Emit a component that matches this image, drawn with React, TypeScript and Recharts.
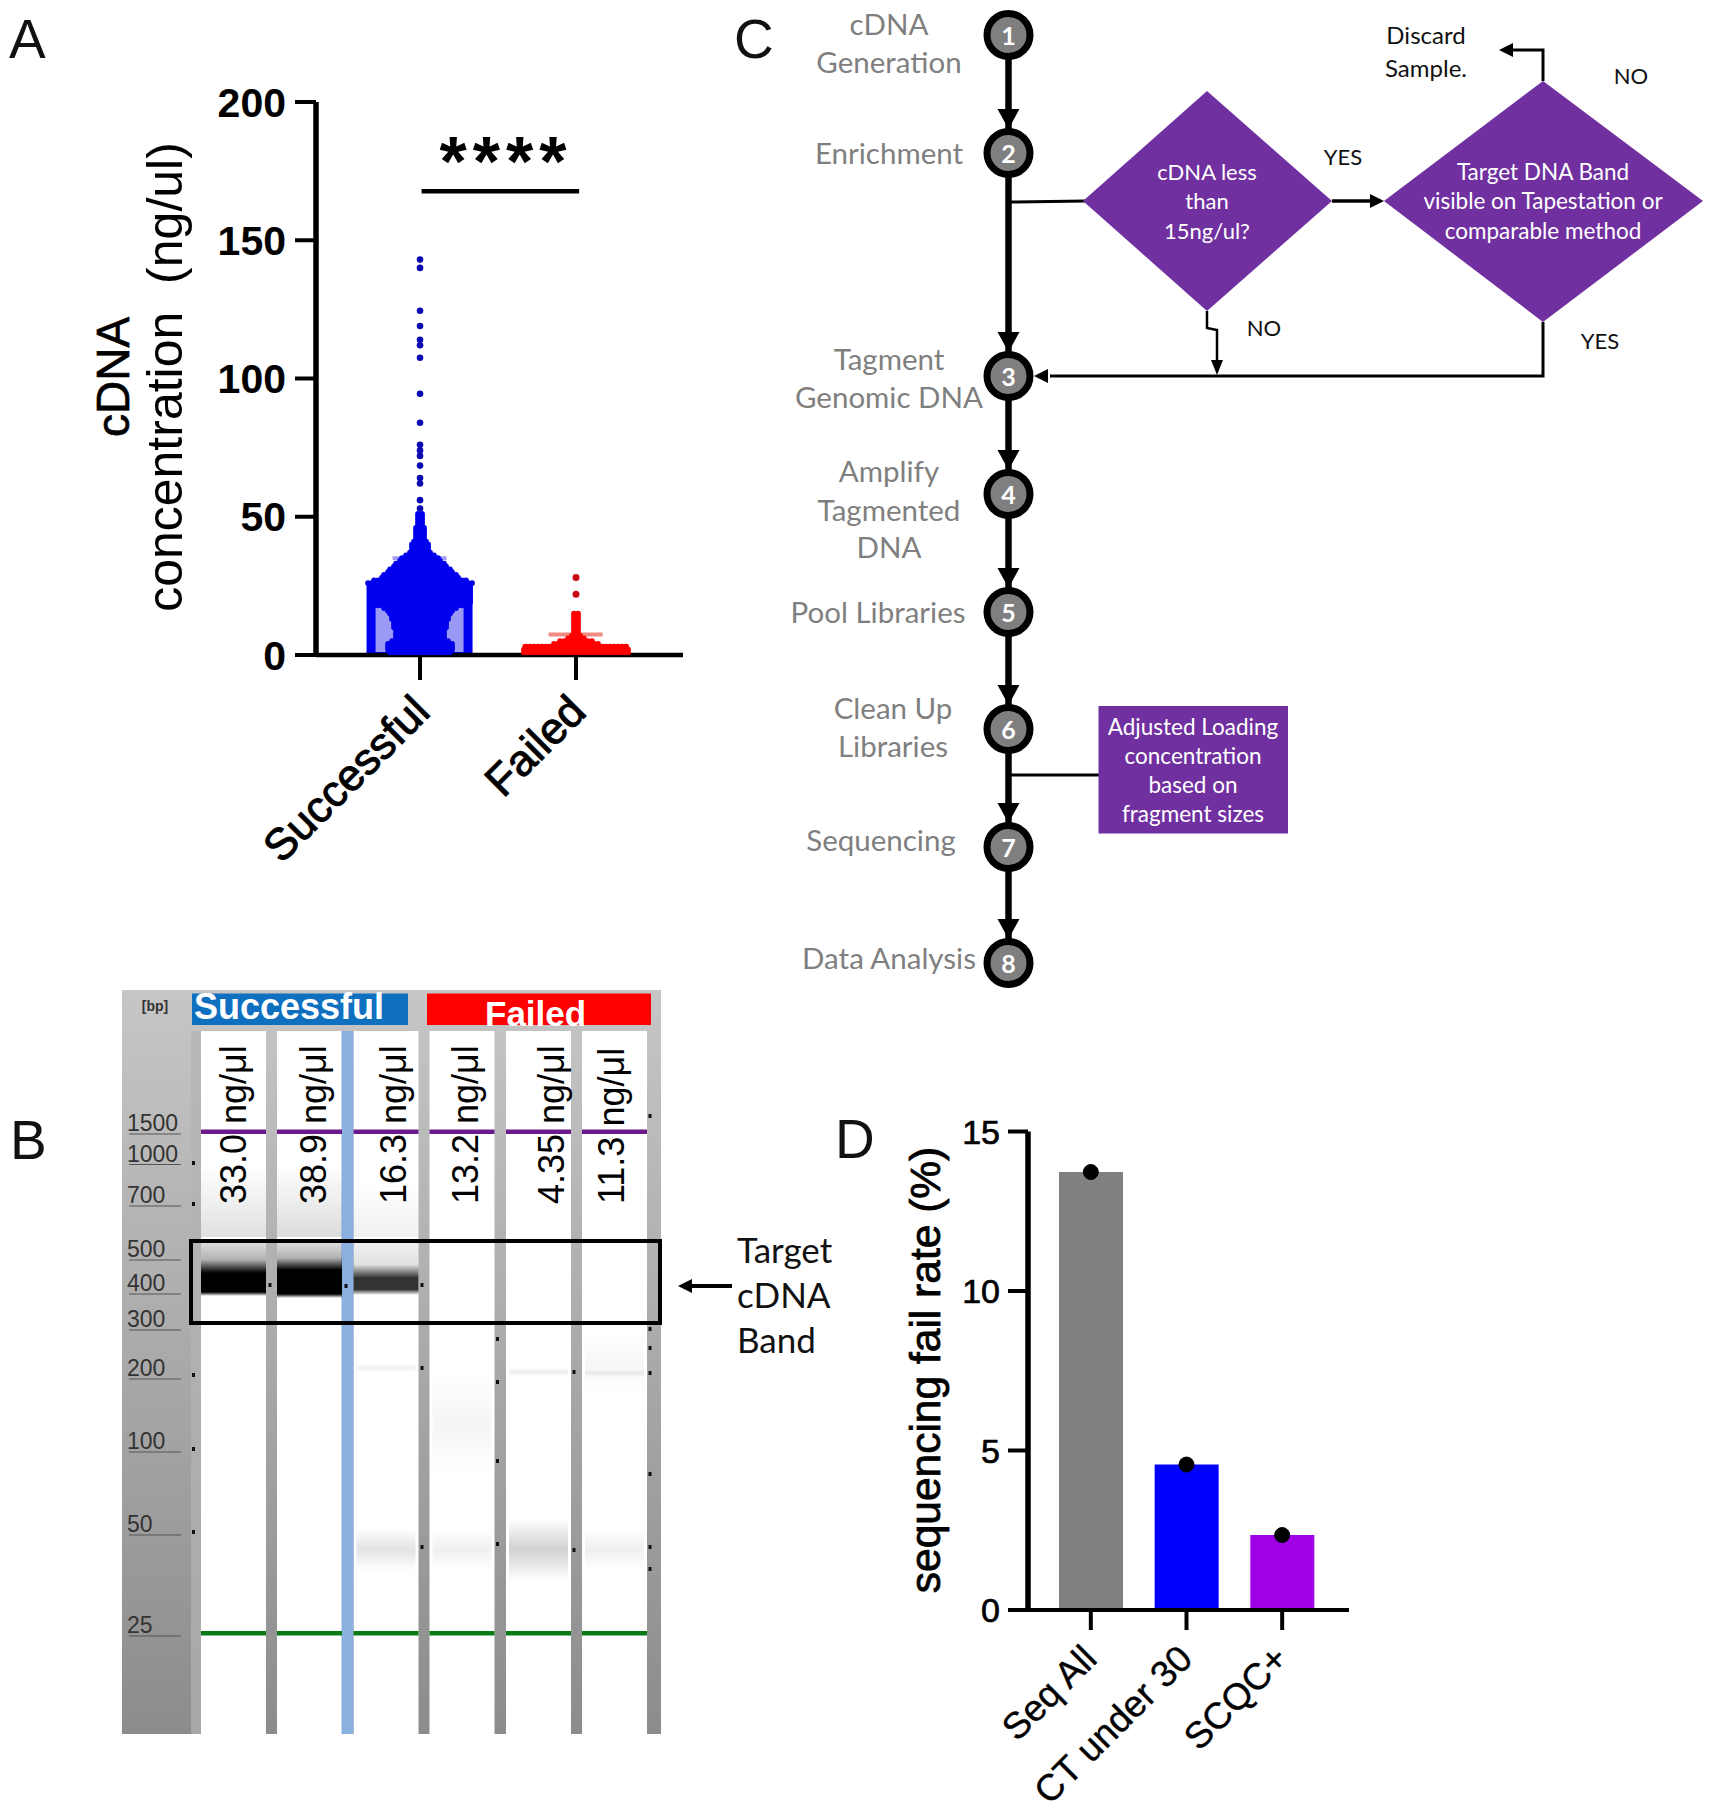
// App.tsx - four panel cDNA / sequencing QC figure
import React from 'react';
import {
  ComposedChart,
  Bar,
  Line,
  Scatter,
  ErrorBar,
  Cell,
  XAxis,
  YAxis,
  ReferenceLine,
} from 'recharts';

const ARIAL = '"Liberation Sans", Arial, sans-serif';
const CALIBRI = 'Lato, "Open Sans", sans-serif';

// ---- Panel A data ----
const swarmGroups = ['Successful', 'Failed'];
const concentrationTicks = [0, 50, 100, 150, 200];
const successfulMean = 24.5;
const successfulError = [0, 10.5];
const failedMean = 2.2;
const failedError = [0, 5.2];
// one swarm row per ng/ul level: how many samples sit on the row
const successfulRowValues = [
  1, 2, 3, 4, 5, 6, 7, 8, 9, 10, 11, 12, 13, 14, 15, 16, 17, 18, 19, 20, 21, 22, 23, 24, 25, 26,
  27, 28, 29, 30, 31, 32, 33, 34, 35, 36, 37, 38, 39, 40, 41, 42, 43, 44, 45, 46, 47, 48, 49, 50, 51,
];
const successfulRowCounts = [
  16, 17, 17, 17, 15, 13, 13, 13, 13, 14, 14, 14, 15, 15, 16, 17, 19, 24, 26, 26, 26, 26, 26, 26, 26, 27,
  24, 20, 19, 17, 16, 14, 13, 11, 10, 8, 6, 5, 5, 5, 4, 3, 3, 3, 3, 3, 2, 2, 2, 2, 2,
];
const successfulOutliers = [143, 140, 124.5, 119, 114, 112, 107.5, 94.5, 84, 76, 74, 72, 68.5, 64, 62, 56, 53];
const failedRowValues = [1, 2, 3, 4, 5, 6, 7, 8, 9, 10, 11, 12, 13, 14, 15];
const failedRowCounts = [27, 27, 26, 12, 9, 5, 3, 2, 2, 2, 2, 2, 2, 2, 2];
const failedOutliers = [28, 22];

// ---- Panel B data ----
const ladderLabels = ['1500', '1000', '700', '500', '400', '300', '200', '100', '50', '25'];
const laneLabels = ['33.0 ng/μl', '38.9 ng/μl', '16.3 ng/μl', '13.2 ng/μl', '4.35 ng/μl', '11.3 ng/μl'];

// ---- Panel C data ----
const stepNumbers = ['1', '2', '3', '4', '5', '6', '7', '8'];
const stepLabels = [
  ['cDNA', 'Generation'],
  ['Enrichment'],
  ['Tagment', 'Genomic DNA'],
  ['Amplify', 'Tagmented', 'DNA'],
  ['Pool Libraries'],
  ['Clean Up', 'Libraries'],
  ['Sequencing'],
  ['Data Analysis'],
];

// ---- Panel D data ----
const failGroups = ['Seq All', 'CT under 30', 'SCQC+'];
const failRates = [13.73, 4.56, 2.35];
const failColors = ['#808080', '#0000ff', '#a000e6'];
const failTicks = [0, 5, 10, 15];

// layout of the drawn (non chart) panels
const stepY = [35, 153, 376, 494, 612, 729, 847, 963];
const stepLabelX = [889, 889, 889, 889, 878, 893, 881, 889];
const stepLabelY = [[23, 61], [152], [358, 396], [470, 509, 546], [611], [707, 745], [839], [957]];
const flowX = 1008.5;
const PURPLE = '#7030a0';

const laneX = [201, 277, 353.5, 429.5, 506, 582];
const laneW = 65;
const ladderY = [1123, 1153.5, 1195, 1249, 1283, 1319, 1368, 1441, 1524, 1625];
const laneTextX = [233, 313, 393, 465, 551, 611];
const gelDots = [
  [193.5, 1163], [193.5, 1204], [193.5, 1375], [193.5, 1449], [193.5, 1532], [650, 1116], [650, 1329], [650, 1348],
  [650, 1373], [650, 1474], [650, 1547], [650, 1569], [497.5, 1339], [497.5, 1382], [497.5, 1461], [497.5, 1544],
  [422, 1368], [422, 1547], [574, 1372], [574, 1550], [270, 1285], [346, 1286], [422, 1285],
];
// lane index, top, bottom, peak opacity
const gelSmears = [
  [2, 1528, 1571, 0.11], [3, 1528, 1571, 0.06], [3, 1373, 1474, 0.04], [4, 1518, 1581, 0.18],
  [5, 1528, 1571, 0.06], [5, 1334, 1392, 0.035], [2, 1364, 1372, 0.06], [4, 1368, 1376, 0.08], [5, 1369, 1377, 0.07],
];

const expandRows = (center: number, values: number[], counts: number[]) => {
  // swarm layout: samples of one row sit side by side around the group centre
  const gap = 4 / 156;
  const out: { pos: number; value: number }[] = [];
  values.forEach((v, i) => {
    for (let k = 0; k < counts[i]; k++) {
      out.push({ pos: center + (k - (counts[i] - 1) / 2) * gap, value: v });
    }
  });
  return out;
};

const swarmBars = [
  { pos: 1, successfulMean, successfulError },
  { pos: 2, failedMean, failedError },
];
const blueSwarm = expandRows(1, successfulRowValues, successfulRowCounts);
const blueOutliers = successfulOutliers.map((value) => ({ pos: 1, value }));
const redSwarm = expandRows(2, failedRowValues, failedRowCounts);
const redOutliers = failedOutliers.map((value) => ({ pos: 2, value }));
const failTable = failGroups.map((group, i) => ({ group, rate: failRates[i] }));

const dot = (color: string, r: number) => (props: any) =>
  <circle cx={props.cx} cy={props.cy} r={r} fill={color} />;

// thick outlined bar whose border stops on the baseline instead of crossing it
const outlinedBar = (fill: string, border: string) => (props: any) => {
  const { x, y, width, height } = props;
  if (!height) return <g />;
  return (
    <g>
      <rect x={x - 4.5} y={y - 4.5} width={width + 9} height={height + 4.5} fill={border} />
      <rect x={x + 4.5} y={y + 4.5} width={width - 9} height={Math.max(height - 7.5, 0)} fill={fill} />
    </g>
  );
};

const SwarmTick = (props: any) => {
  const { x, y, payload } = props;
  return (
    <text
      x={x + 12}
      y={y + 32}
      transform={`rotate(-45 ${x + 12} ${y + 32})`}
      textAnchor="end"
      fontFamily={ARIAL}
      fontSize={44}
      fill="#000"
      stroke="#000"
      strokeWidth={1}
    >
      {swarmGroups[payload.value - 1]}
    </text>
  );
};

const FailTick = (props: any) => {
  const { x, y, payload } = props;
  return (
    <text
      x={x + 8}
      y={y + 29}
      transform={`rotate(-45 ${x + 8} ${y + 29})`}
      textAnchor="end"
      fontFamily={ARIAL}
      fontSize={37}
      fill="#000"
      stroke="#000"
      strokeWidth={0.4}
    >
      {payload.value}
    </text>
  );
};

const PanelA = () => (
  <div style={{ position: 'absolute', left: 0, top: 0 }}>
    <ComposedChart
      width={720}
      height={900}
      data={swarmBars}
      margin={{ top: 102, right: 37, bottom: 185, left: 216 }}
    >
      {/* the two bars each get a hidden x axis: the scatter rows on the main axis would hide their table */}
      <XAxis xAxisId="successful" type="number" dataKey="pos" domain={[0.333, 2.686]} ticks={[1, 2]} height={0} hide />
      <XAxis xAxisId="failed" type="number" dataKey="pos" domain={[0.333, 2.686]} ticks={[1, 2]} height={0} hide />
      <XAxis
        type="number"
        dataKey="pos"
        domain={[0.333, 2.686]}
        ticks={[1, 2]}
        height={60}
        tick={<SwarmTick />}
        tickSize={25}
        axisLine={{ stroke: '#000', strokeWidth: 4.5 }}
        tickLine={{ stroke: '#000', strokeWidth: 4 }}
      />
      <YAxis
        type="number"
        domain={[0, 200]}
        ticks={concentrationTicks}
        width={100}
        tickSize={21}
        tickMargin={9}
        tick={{ fontFamily: ARIAL, fontSize: 41, fontWeight: 700, fill: '#000' }}
        axisLine={{ stroke: '#000', strokeWidth: 5.5 }}
        tickLine={{ stroke: '#000', strokeWidth: 4 }}
      />
      <Bar
        xAxisId="successful"
        dataKey="successfulMean"
        barSize={97}
        shape={outlinedBar('#9a9af6', '#0000f0')}
        isAnimationActive={false}
      >
        <ErrorBar dataKey="successfulError" width={27} stroke="#a29af0" strokeWidth={4} isAnimationActive={false} />
      </Bar>
      <Bar
        xAxisId="failed"
        dataKey="failedMean"
        barSize={97}
        shape={outlinedBar('#ff0000', '#ff0000')}
        isAnimationActive={false}
      >
        <ErrorBar dataKey="failedError" width={27} stroke="#f08a80" strokeWidth={4} isAnimationActive={false} />
      </Bar>
      <Scatter data={blueSwarm} dataKey="value" shape={dot('#0000ee', 2.9)} isAnimationActive={false} />
      <Scatter data={blueOutliers} dataKey="value" shape={dot('#0c0cb0', 3.3)} isAnimationActive={false} />
      <Scatter data={redSwarm} dataKey="value" shape={dot('#ff0000', 2.9)} isAnimationActive={false} />
      <Scatter data={redOutliers} dataKey="value" shape={dot('#c80a14', 3.5)} isAnimationActive={false} />
      <ReferenceLine
        segment={[{ x: 1.01, y: 167.7 }, { x: 2.02, y: 167.7 }]}
        stroke="#000"
        strokeWidth={4.5}
      />
    </ComposedChart>
  </div>
);

const PanelD = () => (
  <div style={{ position: 'absolute', left: 820, top: 1090 }}>
    <ComposedChart
      width={600}
      height={723}
      data={failTable}
      margin={{ top: 41.5, right: 71, bottom: 143, left: 108 }}
    >
      <XAxis
        dataKey="group"
        height={60}
        padding={{ left: 15, right: 19 }}
        interval={0}
        tick={<FailTick />}
        tickSize={20}
        axisLine={{ stroke: '#000', strokeWidth: 4 }}
        tickLine={{ stroke: '#000', strokeWidth: 4 }}
      />
      <YAxis
        type="number"
        domain={[0, 15]}
        ticks={failTicks}
        width={100}
        tickSize={20}
        tickMargin={8}
        tick={{ fontFamily: ARIAL, fontSize: 34, fill: '#000', stroke: '#000', strokeWidth: 0.7 }}
        axisLine={{ stroke: '#000', strokeWidth: 5.5 }}
        tickLine={{ stroke: '#000', strokeWidth: 4 }}
      />
      <Bar dataKey="rate" barSize={64} isAnimationActive={false}>
        {failTable.map((row, i) => (
          <Cell key={row.group} fill={failColors[i]} />
        ))}
      </Bar>
      <Line
        dataKey="rate"
        stroke="none"
        dot={{ r: 7.5, fill: '#000', stroke: '#000' }}
        isAnimationActive={false}
      />
    </ComposedChart>
  </div>
);

const Head = ({ x, y, dir }: { x: number; y: number; dir: 'down' | 'left' | 'right' }) => {
  const pts =
    dir === 'down'
      ? `${x},${y} ${x - 11},${y - 20} ${x + 11},${y - 20}`
      : dir === 'left'
      ? `${x},${y} ${x + 14},${y - 7} ${x + 14},${y + 7}`
      : `${x},${y} ${x - 14},${y - 7} ${x - 14},${y + 7}`;
  return <polygon points={pts} fill="#000" />;
};

const centerLines = (lines: string[], ys: number[], x: number, size: number, fill: string, anchor = 'middle') =>
  lines.map((line, i) => (
    <text
      key={line}
      x={x}
      y={ys[i]}
      textAnchor={anchor as any}
      dominantBaseline="central"
      fontFamily={CALIBRI}
      fontSize={size}
      fill={fill}
    >
      {line}
    </text>
  ));

const PanelC = () => (
  <g>
    <line x1={flowX} y1={stepY[0]} x2={flowX} y2={stepY[7]} stroke="#000" strokeWidth={6.5} />
    {stepY.slice(1).map((y) => (
      <Head key={y} x={flowX} y={y - 24} dir="down" />
    ))}
    {/* branch at enrichment */}
    <line x1={flowX} y1={202} x2={1085} y2={201} stroke="#000" strokeWidth={3} />
    <polygon points="1083,201 1207,91 1332,201 1207,311" fill={PURPLE} />
    <polygon points="1384,201 1543,81 1703,201 1543,322" fill={PURPLE} />
    <line x1={1332} y1={201} x2={1375} y2={201} stroke="#000" strokeWidth={3.5} />
    <Head x={1384} y={201} dir="right" />
    <polyline points="1207,311 1207,328 1217,330 1217,362" fill="none" stroke="#000" strokeWidth={2.5} />
    <polygon points="1217,375 1211,360 1223,360" fill="#000" />
    <polyline points="1543,322 1543,376 1050,376" fill="none" stroke="#000" strokeWidth={3} />
    <Head x={1034} y={376} dir="left" />
    <polyline points="1543,81 1543,50 1512,50" fill="none" stroke="#000" strokeWidth={3} />
    <Head x={1499} y={50} dir="left" />
    {/* adjusted loading box */}
    <line x1={flowX} y1={775} x2={1099} y2={775} stroke="#000" strokeWidth={3} />
    <rect x={1098.5} y={706} width={189.5} height={127.5} fill={PURPLE} />
    {stepY.map((y, i) => (
      <g key={y}>
        <circle cx={flowX} cy={y} r={21.5} fill="#7f7f7f" stroke="#000" strokeWidth={7} />
        <text
          x={flowX}
          y={y}
          textAnchor="middle"
          dominantBaseline="central"
          fontFamily={CALIBRI}
          fontSize={25}
          fontWeight={700}
          fill="#fff"
        >
          {stepNumbers[i]}
        </text>
      </g>
    ))}
    {stepLabels.map((lines, i) => (
      <g key={lines[0]}>{centerLines(lines, stepLabelY[i], stepLabelX[i], 29.5, '#7f7f7f')}</g>
    ))}
    {centerLines(['cDNA less', 'than', '15ng/ul?'], [171, 200, 230], 1207, 22, '#fff')}
    {centerLines(['Target DNA Band', 'visible on Tapestation or', 'comparable method'], [171, 200, 230], 1543, 22.5, '#fff')}
    {centerLines(['Adjusted Loading', 'concentration', 'based on', 'fragment sizes'], [726, 755, 784, 813], 1193, 22.5, '#fff')}
    {centerLines(['Discard', 'Sample.'], [34, 67], 1426, 24, '#111')}
    {centerLines(['YES'], [156.5], 1343, 22, '#111')}
    {centerLines(['NO'], [75.5], 1631, 22, '#111')}
    {centerLines(['NO'], [327], 1264, 22, '#111')}
    {centerLines(['YES'], [340], 1600, 22, '#111')}
  </g>
);

const PanelB = () => (
  <g>
    <defs>
      <linearGradient id="gelBack" x1="0" y1="0" x2="0" y2="1">
        <stop offset="0" stopColor="#c6c6c6" />
        <stop offset="1" stopColor="#8c8c8c" />
      </linearGradient>
      <linearGradient id="fadeDown" x1="0" y1="0" x2="0" y2="1">
        <stop offset="0" stopColor="#000" stopOpacity={0} />
        <stop offset="1" stopColor="#000" stopOpacity={1} />
      </linearGradient>
      <linearGradient id="bandTop" x1="0" y1="0" x2="0" y2="1">
        <stop offset="0" stopColor="#000" stopOpacity={0.14} />
        <stop offset="0.55" stopColor="#000" stopOpacity={0.3} />
        <stop offset="1" stopColor="#000" stopOpacity={1} />
      </linearGradient>
      <linearGradient id="bandSoft" x1="0" y1="0" x2="0" y2="1">
        <stop offset="0" stopColor="#000" stopOpacity={0.06} />
        <stop offset="0.6" stopColor="#000" stopOpacity={0.12} />
        <stop offset="1" stopColor="#000" stopOpacity={0.85} />
      </linearGradient>
      <linearGradient id="bandBottom" x1="0" y1="0" x2="0" y2="1">
        <stop offset="0" stopColor="#000" stopOpacity={1} />
        <stop offset="1" stopColor="#000" stopOpacity={0} />
      </linearGradient>
      <linearGradient id="smear" x1="0" y1="0" x2="0" y2="1">
        <stop offset="0" stopColor="#000" stopOpacity={0} />
        <stop offset="0.5" stopColor="#000" stopOpacity={1} />
        <stop offset="1" stopColor="#000" stopOpacity={0} />
      </linearGradient>
    </defs>
    <rect x={122} y={990} width={539} height={744} fill="url(#gelBack)" />
    <rect x={191} y={1031} width={10} height={703} fill="#b4b4b4" opacity={0.7} />
    {laneX.map((x) => (
      <rect key={x} x={x} y={1031} width={laneW} height={703} fill="#fff" />
    ))}
    <rect x={341.5} y={1031} width={12} height={703} fill="#8ab0e0" />
    {/* shading above the target band */}
    <rect x={laneX[0]} y={1165} width={laneW} height={72} fill="url(#fadeDown)" opacity={0.12} />
    <rect x={laneX[1]} y={1165} width={laneW} height={72} fill="url(#fadeDown)" opacity={0.14} />
    <rect x={laneX[2]} y={1185} width={laneW} height={52} fill="url(#fadeDown)" opacity={0.06} />
    {/* target bands */}
    <rect x={laneX[0]} y={1243} width={laneW} height={30} fill="url(#bandTop)" />
    <rect x={laneX[0]} y={1273} width={laneW} height={19} fill="#000" />
    <rect x={laneX[0]} y={1292} width={laneW} height={4} fill="url(#bandBottom)" />
    <rect x={laneX[1]} y={1243} width={laneW} height={27} fill="url(#bandTop)" />
    <rect x={laneX[1]} y={1270} width={laneW} height={24} fill="#000" />
    <rect x={laneX[1]} y={1294} width={laneW} height={4} fill="url(#bandBottom)" />
    <rect x={laneX[2]} y={1243} width={laneW} height={36} fill="url(#bandSoft)" />
    <rect x={laneX[2]} y={1279} width={laneW} height={11} fill="#333" />
    <rect x={laneX[2]} y={1290} width={laneW} height={5} fill="url(#bandBottom)" opacity={0.7} />
    {gelSmears.map(([lane, top, bottom, peak]) => (
      <rect
        key={`${lane}-${top}`}
        x={laneX[lane] + 3}
        y={top}
        width={laneW - 6}
        height={bottom - top}
        fill="url(#smear)"
        opacity={peak}
      />
    ))}
    <rect x={192} y={993.5} width={216} height={31.5} fill="#1070c0" />
    <rect x={427} y={993.5} width={224} height={31.5} fill="#ff0000" />
    <text x={194} y={1019} fontFamily={ARIAL} fontSize={36} fontWeight={700} fill="#fff">
      Successful
    </text>
    <text x={485} y={1026} fontFamily={ARIAL} fontSize={35} fontWeight={700} fill="#fff">
      Failed
    </text>
    <text x={155} y={1006} textAnchor="middle" dominantBaseline="central" fontFamily={ARIAL} fontSize={14} fontWeight={700} fill="#333">
      [bp]
    </text>
    {ladderLabels.map((label, i) => (
      <g key={label}>
        <text x={127} y={ladderY[i]} dominantBaseline="central" fontFamily={ARIAL} fontSize={23} fill="#333">
          {label}
        </text>
        <line x1={129} y1={ladderY[i] + 11} x2={181} y2={ladderY[i] + 11} stroke="#555" strokeWidth={1.2} />
      </g>
    ))}
    {laneX.map((x) => (
      <rect key={x} x={x} y={1129.5} width={laneW} height={4.5} fill="#6a1a8a" />
    ))}
    {laneX.map((x) => (
      <rect key={x} x={x} y={1631} width={laneW} height={4.5} fill="#0a7a14" />
    ))}
    {laneLabels.map((label, i) => (
      <text
        key={label}
        x={laneTextX[i]}
        y={1204}
        transform={`rotate(-90 ${laneTextX[i]} 1204)`}
        dominantBaseline="central"
        fontFamily={ARIAL}
        fontSize={36}
        fill="#000"
      >
        {label}
      </text>
    ))}
    {gelDots.map(([x, y]) => (
      <rect key={`${x}-${y}`} x={x - 1.5} y={y - 2} width={3} height={4} fill="#111" />
    ))}
    <rect x={191} y={1241} width={469} height={82} fill="none" stroke="#000" strokeWidth={4} />
    <line x1={732} y1={1286} x2={690} y2={1286} stroke="#000" strokeWidth={4} />
    <Head x={678} y={1286} dir="left" />
    {centerLines(['Target', 'cDNA', 'Band'], [1249, 1294, 1339], 737, 35, '#111', 'start')}
  </g>
);

const App = () => (
  <div style={{ position: 'absolute', left: 0, top: 0, width: 1712, height: 1813, background: '#fff', overflow: 'hidden' }}>
    <svg width={1712} height={1813} style={{ position: 'absolute', left: 0, top: 0 }}>
      <g fontFamily={ARIAL} fontSize={55} fill="#111">
        <text x={9} y={58}>A</text>
        <text x={10} y={1159}>B</text>
        <text x={734} y={58}>C</text>
        <text x={835} y={1158}>D</text>
      </g>
      {/* panel A axis title and significance */}
      <text x={113} y={377} transform="rotate(-90 113 377)" textAnchor="middle" dominantBaseline="central" fontFamily={ARIAL} fontSize={46} fill="#000" stroke="#000" strokeWidth={0.7}>
        cDNA
      </text>
      <text x={165} y={377} transform="rotate(-90 165 377)" textAnchor="middle" dominantBaseline="central" fontFamily={ARIAL} fontSize={50} fill="#000">
        concentration{'\u00a0\u00a0'}(ng/ul)
      </text>
      <text x={506} y={186} textAnchor="middle" fontFamily={ARIAL} fontSize={70} fontWeight={700} letterSpacing={6} fill="#000">
        ****
      </text>
      {/* panel D axis title */}
      <text x={925} y={1370} transform="rotate(-90 925 1370)" textAnchor="middle" dominantBaseline="central" fontFamily={ARIAL} fontSize={42.5} fill="#000" stroke="#000" strokeWidth={0.8}>
        sequencing fail rate (%)
      </text>
      <PanelC />
      <PanelB />
    </svg>
    <PanelA />
    <PanelD />
  </div>
);

export default App;
